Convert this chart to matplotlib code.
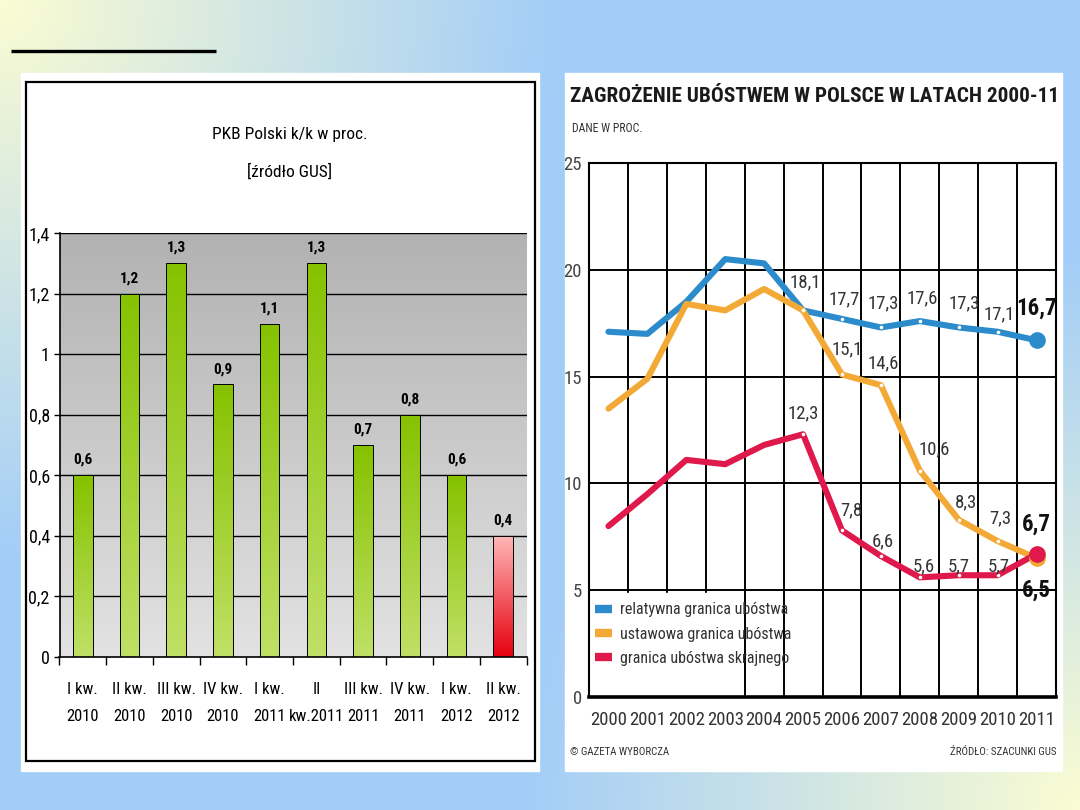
import numpy as np
import matplotlib
matplotlib.use('Agg')
import matplotlib.pyplot as plt
from matplotlib.patches import Rectangle
from matplotlib.lines import Line2D
from matplotlib.colors import to_rgb

plt.rcParams['font.family'] = ['Roboto Condensed', 'Liberation Sans', 'DejaVu Sans']

# --- left chart: PKB k/k
kwartaly = ['I kw.\n2010', 'II kw.\n2010', 'III kw.\n2010', 'IV kw.\n2010', 'I kw.\n2011',
            'II\nkw.2011', 'III kw.\n2011', 'IV kw.\n2011', 'I kw.\n2012', 'II kw.\n2012']
pkb = [0.6, 1.2, 1.3, 0.9, 1.1, 1.3, 0.7, 0.8, 0.6, 0.4]
pkb_ticks = [0, 0.2, 0.4, 0.6, 0.8, 1.0, 1.2, 1.4]
pkb_ticklabels = ['0', '0,2', '0,4', '0,6', '0,8', '1', '1,2', '1,4']

# --- right chart: zagrozenie ubostwem
lata = ['2000', '2001', '2002', '2003', '2004', '2005', '2006', '2007', '2008', '2009', '2010', '2011']
relatywna = [17.1, 17.0, 18.5, 20.5, 20.3, 18.1, 17.7, 17.3, 17.6, 17.3, 17.1, 16.7]
ustawowa = [13.5, 14.9, 18.4, 18.1, 19.1, 18.1, 15.1, 14.6, 10.6, 8.3, 7.3, 6.5]
skrajna = [8.0, 9.5, 11.1, 10.9, 11.8, 12.3, 7.8, 6.6, 5.6, 5.7, 5.7, 6.7]
nazwy = ['relatywna granica ubóstwa', 'ustawowa granica ubóstwa', 'granica ubóstwa skrajnego']

W, H = 1080, 810


def box(x0, y0, x1, y1):
    # pixel box -> figure fraction
    return [x0 / W, 1 - y1 / H, (x1 - x0) / W, (y1 - y0) / H]


def vgrad(top, bottom, n=128):
    t = np.linspace(0, 1, n)[:, None, None]
    return np.array(to_rgb(top))[None, None, :] * (1 - t) + np.array(to_rgb(bottom))[None, None, :] * t


fig = plt.figure(figsize=(10.8, 8.1), dpi=100)

# slide background
bg = fig.add_axes([0, 0, 1, 1])
yy, xx = np.mgrid[0:H, 0:W]
d = np.minimum(np.hypot(xx, yy), np.hypot(W - xx, H - yy))
w = np.clip(1 - d / 560.0, 0, 1)[:, :, None]
yellow = np.array(to_rgb('#fbfcd2'))
blue = np.array(to_rgb('#a2cdf8'))
bg.imshow(blue * (1 - w) + yellow * w, extent=[0, W, H, 0], aspect='auto')
bg.set_xlim(0, W)
bg.set_ylim(H, 0)
bg.axis('off')

bg.plot([11, 216], [51, 51], color='black', lw=2.4, solid_capstyle='butt')
bg.add_patch(Rectangle((21, 73), 518, 698, color='white'))
bg.add_patch(Rectangle((26, 82), 509, 679, facecolor='none', edgecolor='black', lw=1.6))
bg.add_patch(Rectangle((565, 73), 497, 698, color='white'))

bg.text(290, 135, 'PKB Polski k/k w proc.', ha='center', va='center', fontsize=12.5)
bg.text(290, 172, '[źródło GUS]', ha='center', va='center', fontsize=12.5)

bg.text(570, 97, 'ZAGROŻENIE UBÓSTWEM W POLSCE W LATACH 2000-11', ha='left', va='center',
        fontsize=15.3, fontweight='bold', color='#1a1a1a')
bg.text(572, 129, 'DANE W PROC.', ha='left', va='center', fontsize=8.5, color='#333333')
bg.text(570, 752, '© GAZETA WYBORCZA', ha='left', va='center', fontsize=7.8, color='#333333')
bg.text(1057, 752, 'ŹRÓDŁO: SZACUNKI GUS', ha='right', va='center', fontsize=7.8, color='#333333')

# ---------- left chart
ax1 = fig.add_axes(box(59.5, 233, 526.5, 657))
x1 = np.arange(len(pkb))
ax1.imshow(vgrad('#b2b2b2', '#e2e2e2'), extent=[-0.5, len(pkb) - 0.5, 0, 1.4], aspect='auto', zorder=0)
for t in pkb_ticks[1:]:
    ax1.axhline(t, color='black', lw=1.0, zorder=1)

bars = ax1.bar(x1, pkb, width=0.42, facecolor='none', edgecolor='black', lw=0.7, zorder=3)
for i, b in enumerate(bars):
    if i == len(pkb) - 1:
        img = vgrad('#ffb8b8', '#e6000e')
    else:
        img = vgrad('#86c200', '#c0e066')
    im = ax1.imshow(img, extent=[b.get_x(), b.get_x() + b.get_width(), 0, b.get_height()],
                    aspect='auto', zorder=2)
    im.set_clip_path(b)
    ax1.annotate(f'{pkb[i]:.1f}'.replace('.', ','), (x1[i], pkb[i]), xytext=(0, 6),
                 textcoords='offset points', ha='center', va='bottom', fontsize=11,
                 fontweight='bold')

ax1.set_xlim(-0.5, len(pkb) - 0.5)
ax1.set_ylim(0, 1.4)
ax1.set_yticks(pkb_ticks)
ax1.set_yticklabels(pkb_ticklabels, fontsize=13)
ax1.set_xticks(x1)
ax1.set_xticklabels(kwartaly, fontsize=12, linespacing=2.0)
ax1.set_xticks(np.arange(len(pkb) + 1) - 0.5, minor=True)
ax1.tick_params(axis='x', which='major', length=0, pad=18)
ax1.tick_params(axis='x', which='minor', length=6, width=1, direction='out')
ax1.tick_params(axis='y', length=4, width=1, direction='out', pad=3)
for s in ['top', 'right']:
    ax1.spines[s].set_visible(False)
ax1.spines['left'].set_linewidth(1.2)
ax1.spines['bottom'].set_linewidth(1.2)

# ---------- right chart
ax2 = fig.add_axes(box(589, 163, 1056, 697))
x2 = np.arange(len(lata))
for t in [5, 10, 15, 20]:
    ax2.axhline(t, color='black', lw=1.4, zorder=1)
for v in np.arange(len(lata) - 1) + 0.5:
    ax2.axvline(v, color='black', lw=1.4, zorder=1)
ax2.add_patch(Rectangle((-0.5, 0), 3.92, 4.85, color='white', zorder=2))

kolory = ['#2b8bcb', '#f2a935', '#e0194c']
serie = [relatywna, ustawowa, skrajna]
for vals, c in zip(serie, kolory):
    ax2.plot(x2, vals, color=c, lw=4.4, zorder=4, solid_joinstyle='round', solid_capstyle='round')
    ax2.plot(x2[5:11], vals[5:11], 'o', ms=2.6, color='white', mec='none', zorder=5)
    ax2.plot(x2[-1], vals[-1], 'o', ms=11, color=c, zorder=6)

# label offsets in pixels (dx, dy)
etykiety = [
    (relatywna, range(5, 12), [(2, 28), (2, 20), (2, 24), (2, 23), (6, 24), (2, 17), (0, 32)]),
    (ustawowa, range(6, 12), [(5, 25), (2, 22), (14, 21), (7, 17), (3, 23), (0, -32)]),
    (skrajna, range(5, 12), [(0, 21), (9, 20), (2, 15), (4, 11), (0, 9), (1, 9), (0, 30)]),
]
for vals, idx, offs in etykiety:
    for i, (dx, dy) in zip(idx, offs):
        last = i == len(lata) - 1
        ax2.annotate(f'{vals[i]:.1f}'.replace('.', ','), (x2[i], vals[i]),
                     xytext=(dx * 0.72, dy * 0.72), textcoords='offset points',
                     ha='center', va='center', zorder=7,
                     fontsize=16.5 if last else 13.5,
                     fontweight='bold' if last else 'normal',
                     color='#111111' if last else '#333333')

ax2.set_xlim(-0.5, len(lata) - 0.5)
ax2.set_ylim(0, 25)
ax2.set_xticks(x2)
ax2.set_xticklabels(lata, fontsize=13.5, color='#333333')
ax2.set_yticks([0, 5, 10, 15, 20, 25])
ax2.set_yticklabels(['0', '5', '10', '15', '20', '25'], fontsize=13.5, color='#444444')
ax2.tick_params(axis='x', length=0, pad=10)
ax2.tick_params(axis='y', length=0, pad=5)
for s in ax2.spines.values():
    s.set_linewidth(1.5)
ax2.spines['bottom'].set_linewidth(2.6)

uchwyty = [Line2D([], [], color=c, lw=6, solid_capstyle='butt') for c in kolory]
ax2.legend(uchwyty, nazwy, loc='upper left', bbox_to_anchor=(0.012, 0.177), frameon=False,
           fontsize=11.5, handlelength=1.1, handletextpad=0.5, labelspacing=0.58,
           borderaxespad=0, borderpad=0, labelcolor='#333333')

fig.savefig('out.png', dpi=100)
